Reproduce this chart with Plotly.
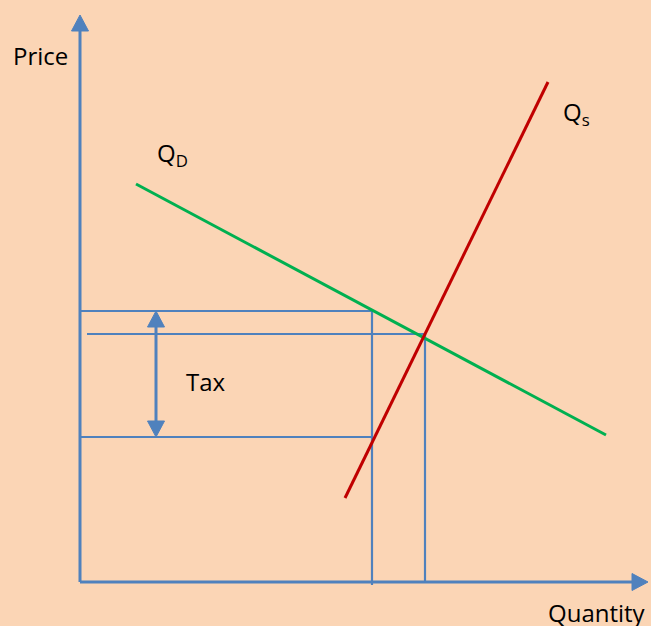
import plotly.graph_objects as go

# ---- data (quantity, price units; origin at the axes corner) ----
demand_q = [56, 526]
demand_p = [398, 147]
supply_q = [265, 468]
supply_p = [84, 500]

consumer_price = 271      # price paid by buyers (with tax)
producer_price = 145      # price received by sellers
equil_price = 248
tax_quantity = 292
equil_quantity = 345
equil_line_start = 7
tax_arrow_q = 76

axis_q_max = 568
axis_p_max = 567

labels = {"price": "Price", "quantity": "Quantity", "tax": "Tax",
          "qd": "Q<sub>D</sub>", "qs": "Q<sub>s</sub>"}

BLUE = "#4F81BD"
GREEN = "#00B050"
RED = "#C00000"
BG = "#FBD5B5"
HEAD_LEN = 16
HEAD_HALF = 8.5

fig = go.Figure()


def line(xs, ys, color, width):
    fig.add_trace(go.Scatter(x=xs, y=ys, mode="lines", hoverinfo="skip",
                             line=dict(color=color, width=width), showlegend=False))


def head(tip_x, tip_y, dx, dy, color):
    # dx,dy: unit direction of the arrow
    bx, by = tip_x - dx * HEAD_LEN, tip_y - dy * HEAD_LEN
    px, py = -dy * HEAD_HALF, dx * HEAD_HALF
    fig.add_trace(go.Scatter(x=[tip_x, bx + px, bx - px, tip_x],
                             y=[tip_y, by + py, by - py, tip_y],
                             mode="lines", fill="toself", fillcolor=color,
                             line=dict(color=color, width=1), hoverinfo="skip",
                             showlegend=False))


# helper lines
line([0, tax_quantity], [consumer_price, consumer_price], BLUE, 2.2)
line([equil_line_start, equil_quantity], [equil_price, equil_price], BLUE, 2.2)
line([0, tax_quantity], [producer_price, producer_price], BLUE, 2.2)
line([tax_quantity, tax_quantity], [consumer_price, -3], BLUE, 2.2)
line([equil_quantity, equil_quantity], [equil_price, 0], BLUE, 2.2)

# tax arrow
line([tax_arrow_q, tax_arrow_q], [consumer_price - HEAD_LEN + 2, producer_price + HEAD_LEN - 2], BLUE, 3)
head(tax_arrow_q, consumer_price, 0, 1, BLUE)
head(tax_arrow_q, producer_price, 0, -1, BLUE)

# curves
line(demand_q, demand_p, GREEN, 3)
line(supply_q, supply_p, RED, 3)

# axes
line([0, 0], [0, axis_p_max - HEAD_LEN + 2], BLUE, 3)
head(0, axis_p_max, 0, 1, BLUE)
line([0, axis_q_max - HEAD_LEN + 2], [0, 0], BLUE, 3)
head(axis_q_max, 0, 1, 0, BLUE)

font = dict(family="Open Sans", size=24, color="#000000")
fig.add_annotation(x=-40, y=527, text=labels["price"], showarrow=False, font=font)
fig.add_annotation(x=517, y=-30, text=labels["quantity"], showarrow=False, font=font)
fig.add_annotation(x=126, y=201, text=labels["tax"], showarrow=False, font=font)
fig.add_annotation(x=75, y=428, text=labels["qd"], showarrow=False, font=font, xanchor="left")
fig.add_annotation(x=481, y=469, text=labels["qs"], showarrow=False, font=font, xanchor="left")

fig.update_layout(
    width=651, height=626,
    margin=dict(l=0, r=0, t=0, b=0),
    paper_bgcolor=BG, plot_bgcolor=BG,
    xaxis=dict(range=[-80, 571], visible=False, fixedrange=True),
    yaxis=dict(range=[-44, 582], visible=False, fixedrange=True),
    showlegend=False,
)
fig.write_html("out.html", config={"displayModeBar": False},
               post_script="document.body.style.margin='0';document.body.style.overflow='hidden';")
